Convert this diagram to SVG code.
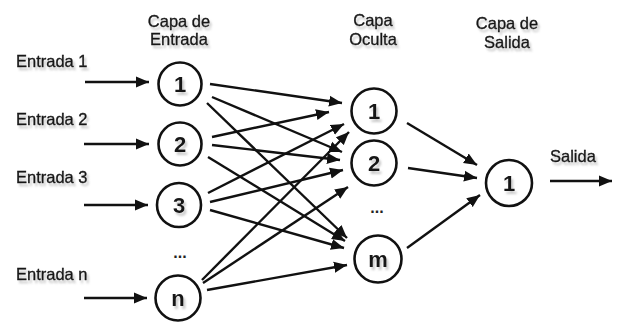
<svg xmlns="http://www.w3.org/2000/svg" width="617" height="322" viewBox="0 0 617 322">
<defs>
<marker id="arr" markerUnits="userSpaceOnUse" markerWidth="14" markerHeight="12" refX="13" refY="6" orient="auto">
<path d="M0,0.5 L13,6 L0,11.5 z" fill="#111"/>
</marker>
<filter id="sh" x="-20%" y="-20%" width="150%" height="160%">
<feDropShadow dx="2" dy="3" stdDeviation="1" flood-color="#888" flood-opacity="0.45"/>
</filter>
</defs>
<style>
.lbl{font-family:"Liberation Sans",Arial,sans-serif;font-size:16.5px;fill:#151515;stroke:#151515;stroke-width:0.35;filter:url(#sh)}
.hdr{text-anchor:middle}
.node circle{fill:#fff;stroke:#111;stroke-width:2.6}
.node text{font-family:"Liberation Sans",Arial,sans-serif;font-size:22px;font-weight:bold;fill:#151515;text-anchor:middle;filter:url(#sh)}
.dots{font-family:"Liberation Sans",Arial,sans-serif;font-size:16px;font-weight:bold;fill:#222;text-anchor:middle}
#connectors line{stroke:#111;stroke-width:2.4;marker-end:url(#arr)}
</style>
<rect width="617" height="322" fill="#fff"/>

<g id="headers">
<text class="lbl hdr" x="179" y="27">Capa de</text>
<text class="lbl hdr" x="179" y="45">Entrada</text>
<text class="lbl hdr" x="373" y="26">Capa</text>
<text class="lbl hdr" x="373" y="45">Oculta</text>
<text class="lbl hdr" x="507" y="29">Capa de</text>
<text class="lbl hdr" x="507" y="48">Salida</text>
</g>

<g id="input-labels">
<text class="lbl" x="16" y="67">Entrada 1</text>
<text class="lbl" x="16" y="125">Entrada 2</text>
<text class="lbl" x="16" y="183">Entrada 3</text>
<text class="lbl" x="16" y="280">Entrada n</text>
<text class="lbl" x="550" y="162">Salida</text>
</g>

<g id="connectors">
<line x1="85" y1="82" x2="149" y2="82"/>
<line x1="84" y1="144" x2="149" y2="144"/>
<line x1="84" y1="205" x2="148" y2="205"/>
<line x1="84" y1="298" x2="147" y2="298"/>

<line x1="210" y1="84" x2="342" y2="103"/>
<line x1="212" y1="97" x2="342" y2="152"/>
<line x1="207" y1="103" x2="347" y2="238"/>

<line x1="212" y1="137" x2="329" y2="112"/>
<line x1="212" y1="145" x2="340" y2="160"/>
<line x1="208" y1="157" x2="345" y2="241"/>

<line x1="208" y1="193" x2="344" y2="124"/>
<line x1="210" y1="202" x2="343" y2="170"/>
<line x1="210" y1="210" x2="344" y2="248"/>

<line x1="202" y1="280" x2="349" y2="132"/>
<line x1="203" y1="283" x2="348" y2="187"/>
<line x1="207" y1="290" x2="347" y2="265"/>

<line x1="407" y1="123" x2="477" y2="165"/>
<line x1="408" y1="168" x2="477" y2="178"/>
<line x1="407" y1="248" x2="480" y2="195"/>

<line x1="550" y1="181" x2="612" y2="181"/>
</g>

<g id="in1" class="node"><circle cx="180" cy="84" r="21.5"/><text x="180" y="92">1</text></g>
<g id="in2" class="node"><circle cx="180" cy="144" r="21.5"/><text x="180" y="152">2</text></g>
<g id="in3" class="node"><circle cx="179" cy="205" r="22"/><text x="179" y="213">3</text></g>
<g id="inn" class="node"><circle cx="178" cy="298" r="22.5"/><text x="178" y="306">n</text></g>
<text class="dots" x="180" y="258">...</text>

<g id="h1" class="node"><circle cx="374" cy="111" r="22.5"/><text x="374" y="119">1</text></g>
<g id="h2" class="node"><circle cx="374" cy="163" r="22.5"/><text x="374" y="171">2</text></g>
<g id="hm" class="node"><circle cx="378" cy="259" r="23.5"/><text x="378" y="267">m</text></g>
<text class="dots" x="377" y="213">...</text>

<g id="out1" class="node"><circle cx="509" cy="183" r="23"/><text x="509" y="191">1</text></g>
</svg>
